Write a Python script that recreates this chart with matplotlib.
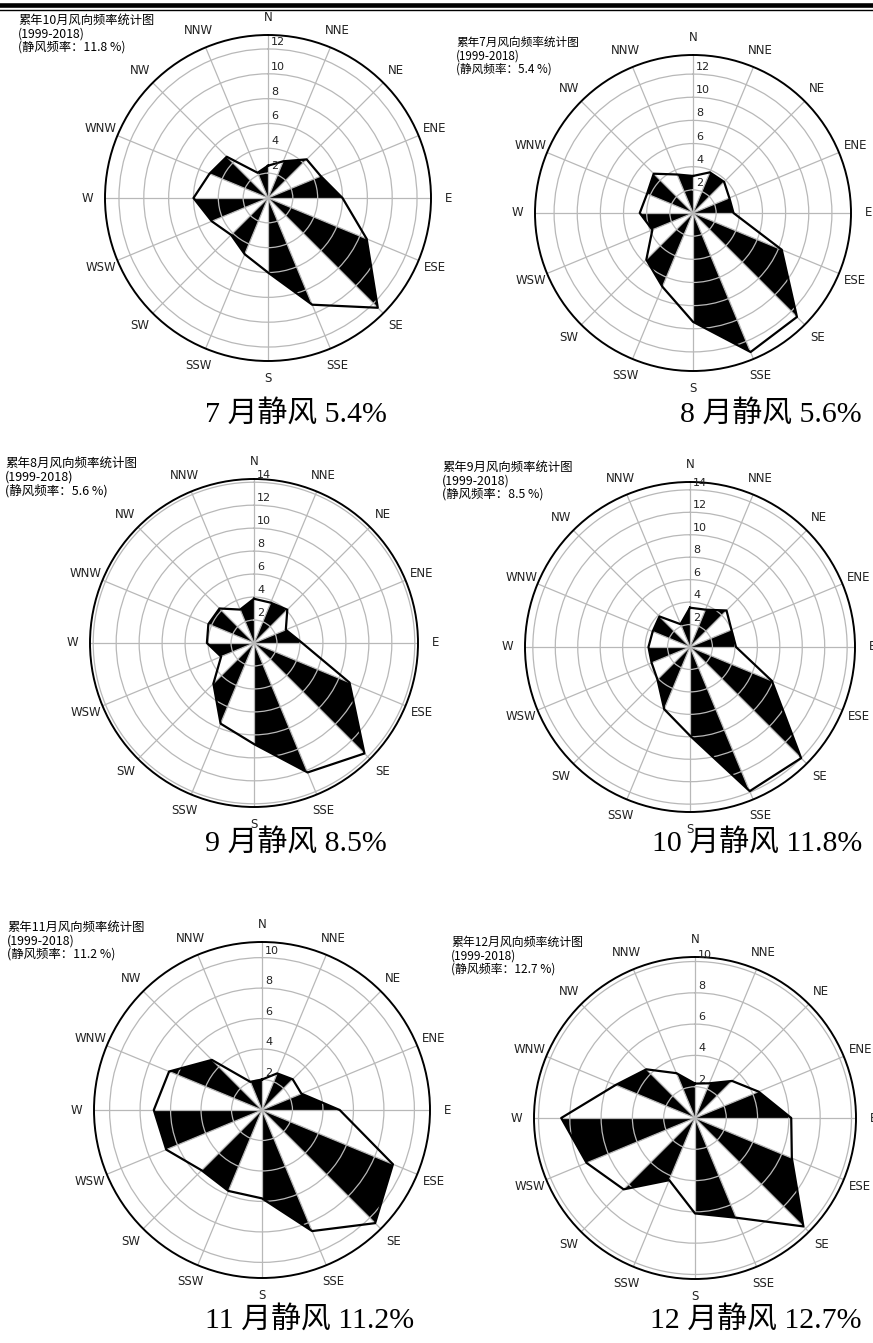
import numpy as np
import matplotlib
matplotlib.use('Agg')
import matplotlib.pyplot as plt
from matplotlib.lines import Line2D
from matplotlib.transforms import ScaledTranslation

plt.rcParams['font.family'] = ['DejaVu Sans', 'Noto Sans CJK SC']

directions = ['N', 'NNE', 'NE', 'ENE', 'E', 'ESE', 'SE', 'SSE',
              'S', 'SSW', 'SW', 'WSW', 'W', 'WNW', 'NW', 'NNW']

# wind direction frequency (%), N clockwise
freq_oct = [2.6, 3.2, 4.4, 4.6, 6.0, 8.6, 12.5, 9.3, 6.0, 4.9, 4.2, 4.9, 6.0, 5.1, 4.7, 2.2]
freq_jul = [3.2, 3.8, 3.8, 3.4, 3.5, 8.3, 12.7, 13.0, 9.4, 6.9, 5.7, 3.8, 4.6, 4.3, 4.8, 3.6]
freq_aug = [3.85, 3.8, 4.1, 3.0, 4.2, 9.0, 13.6, 12.2, 8.8, 7.6, 5.0, 3.1, 4.1, 4.3, 4.25, 3.15]
freq_sep = [3.5, 3.6, 4.6, 4.0, 4.1, 7.9, 14.0, 13.9, 7.9, 6.0, 4.1, 3.7, 3.7, 3.6, 3.85, 2.2]
freq_nov = [2.0, 2.6, 2.85, 2.8, 5.1, 9.3, 10.5, 8.6, 5.8, 5.75, 5.6, 6.8, 7.1, 6.6, 4.65, 2.0]
freq_dec = [2.2, 2.4, 3.35, 4.4, 6.15, 6.7, 9.8, 6.9, 6.1, 4.3, 6.45, 7.5, 8.55, 5.5, 4.4, 3.1]

months = ['10', '7', '8', '9', '11', '12']
calm = [11.8, 5.4, 5.6, 8.5, 11.2, 12.7]
captions = ['7 月静风 5.4%', '8 月静风 5.6%', '9 月静风 8.5%',
            '10 月静风 11.8%', '11 月静风 11.2%', '12 月静风 12.7%']
all_freq = [freq_oct, freq_jul, freq_aug, freq_sep, freq_nov, freq_dec]

W, H = 873, 1343
fig = plt.figure(figsize=(W / 100, H / 100), dpi=100)

# center x, center y, radius, title x, title top, title size (pixels / pt)
layout = [
    (268, 198, 163, 18, 14, 8.8),
    (693, 213, 158, 456, 36, 8.4),
    (254, 643, 164, 5, 457, 9.0),
    (690, 647, 165, 442, 461, 8.9),
    (262, 1110, 168, 7, 921, 8.9),
    (695, 1118, 161, 451, 936, 8.6),
]
# caption anchor x, center y, alignment
cap_pos = [(205, 414, 'left'), (862, 414, 'right'), (205, 843, 'left'),
           (862, 843, 'right'), (205, 1320, 'left'), (862, 1320, 'right')]

theta = np.deg2rad(np.arange(16) * 22.5)

for k, freq in enumerate(all_freq):
    cx, cy, r, tx, ty, tsize = layout[k]
    ax = fig.add_axes([(cx - r) / W, 1 - (cy + r) / H, 2 * r / W, 2 * r / H],
                      projection='polar')
    ax.set_theta_zero_location('N')
    ax.set_theta_direction(-1)
    vals = np.array(freq)
    rmax = vals.max() * 1.05

    # alternate black triangles between neighbouring directions
    for i in range(1, 16, 2):
        j = (i + 1) % 16
        ax.fill([0, theta[i], theta[j]], [0, vals[i], vals[j]],
                color='black', lw=0)
    ax.plot(np.append(theta, theta[0]), np.append(vals, vals[0]),
            color='black', lw=1.6)

    ax.set_ylim(0, rmax)
    ax.set_xticks(theta)
    ax.set_xticklabels(directions, fontsize=8.5)
    ax.tick_params(axis='x', pad=2.3, colors='#222222')
    ticks = np.arange(2, rmax, 2)
    ax.set_yticks(ticks)
    ax.set_yticklabels([])
    ax.grid(color='#b8b8b8', lw=0.9)
    ax.spines['polar'].set_linewidth(1.4)
    off = ax.transData + ScaledTranslation(0.03, 0.07, fig.dpi_scale_trans)
    for t in ticks:
        ax.text(0, t, str(int(t)), transform=off, ha='left', va='center',
                fontsize=8, color='#222222')

    fig.text(tx / W, 1 - ty / H,
             '累年%s月风向频率统计图\n(1999-2018)\n(静风频率：%.1f %%)' % (months[k], calm[k]),
             ha='left', va='top', fontsize=tsize, linespacing=1.05,
             family=['Noto Sans CJK SC', 'DejaVu Sans'], color='black')

    px, py, al = cap_pos[k]
    fig.text(px / W, 1 - py / H, captions[k], ha=al, va='center', fontsize=21.5,
             family=['Liberation Serif', 'Noto Sans CJK SC'])

# double rule at the top of the page
fig.add_artist(Line2D([0, 1], [1 - 5 / H, 1 - 5 / H], transform=fig.transFigure,
                      color='black', lw=3.3))
fig.add_artist(Line2D([0, 1], [1 - 9.5 / H, 1 - 9.5 / H], transform=fig.transFigure,
                      color='black', lw=1.0))

fig.savefig('out.png', dpi=100)
